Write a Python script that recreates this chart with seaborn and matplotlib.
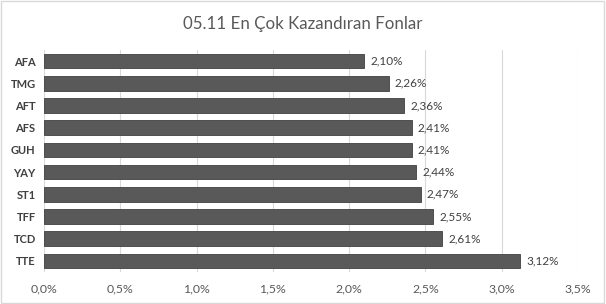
import matplotlib
matplotlib.use("Agg")
import matplotlib.pyplot as plt
import seaborn as sns
import pandas as pd
from matplotlib.ticker import FuncFormatter, MultipleLocator

funds = ["AFA", "TMG", "AFT", "AFS", "GUH", "YAY", "ST1", "TFF", "TCD", "TTE"]
returns = [2.10, 2.26, 2.36, 2.41, 2.41, 2.44, 2.47, 2.55, 2.61, 3.12]
title = "05.11 En Çok Kazandıran Fonlar"

df = pd.DataFrame({"fund": funds, "ret": returns})

sns.set_theme(style="white")
plt.rcParams["font.family"] = ["Lato", "DejaVu Sans"]

fig = plt.figure(figsize=(6.06, 3.04), dpi=100)
ax = fig.add_axes([44/606, 1-272/304, (578-44)/606, (272-50)/304])

sns.barplot(data=df, x="ret", y="fund", orient="h", color="#595959",
            width=0.66, edgecolor="#404040", linewidth=0.6, ax=ax, saturation=1)

ax.set_xlim(0, 3.5)
ax.xaxis.set_major_locator(MultipleLocator(0.5))
ax.xaxis.set_major_formatter(FuncFormatter(lambda v, p: f"{v:.1f}%".replace(".", ",")))
ax.grid(axis="x", color="#d9d9d9", linewidth=0.8)
ax.set_axisbelow(True)
for s in ax.spines.values():
    s.set_visible(False)
ax.set_xlabel("")
ax.set_ylabel("")
ax.tick_params(axis="x", length=0, pad=8, labelsize=8.8, labelcolor="#595959")
ax.tick_params(axis="y", length=0, pad=6, labelsize=8, labelcolor="#404040")
for lab in ax.get_yticklabels():
    lab.set_fontweight("bold")

for i, v in enumerate(returns):
    ax.text(v + 0.04, i, f"{v:.2f}%".replace(".", ","), va="center", ha="left",
            fontsize=8.5, color="#404040")

fig.text(0.5, 1-24/304, title, ha="center", va="center", fontsize=12.2, color="#595959")
fig.patches.append(plt.Rectangle((0.002, 0.003), 0.995, 0.994, transform=fig.transFigure,
                                 fill=False, edgecolor="#d9d9d9", linewidth=1))
fig.savefig("out.png", dpi=100)
